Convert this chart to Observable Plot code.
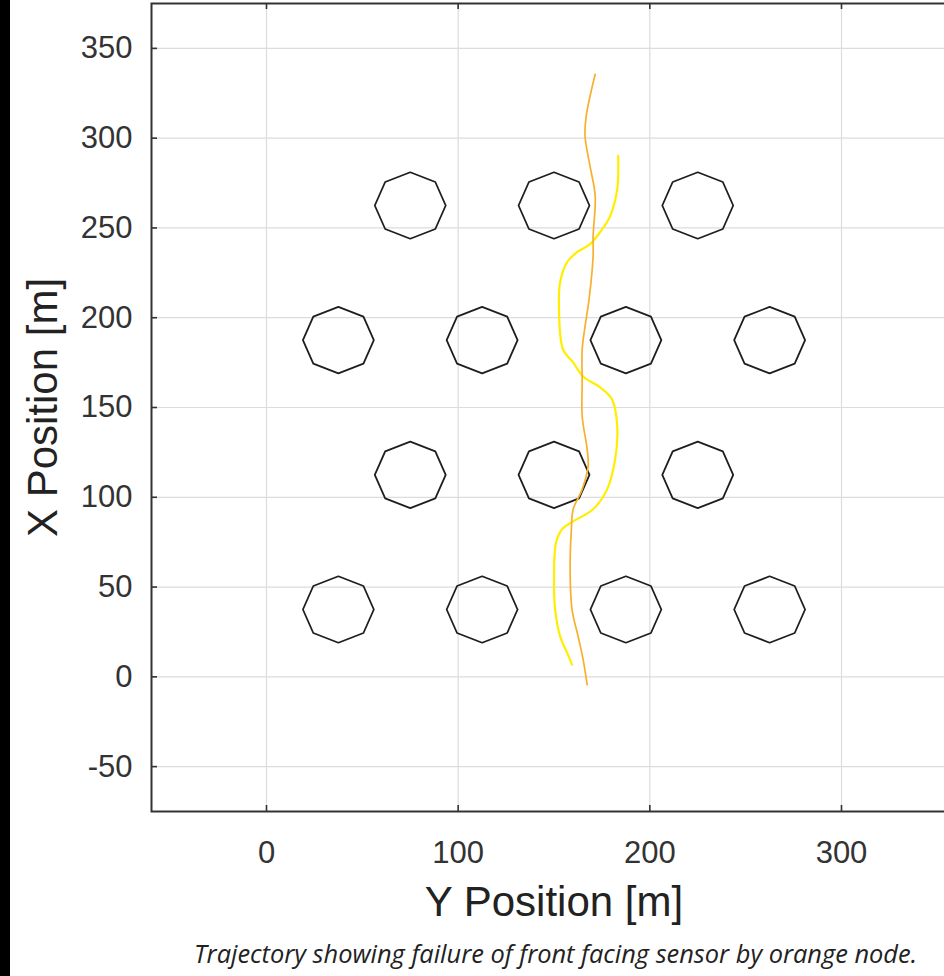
<!DOCTYPE html>
<html>
<head>
<meta charset="utf-8">
<script src="https://cdn.jsdelivr.net/npm/d3@7"></script>
<script src="https://cdn.jsdelivr.net/npm/@observablehq/plot@0.6"></script>
<style>
  html, body { margin: 0; padding: 0; background: #fff; width: 944px; height: 976px; overflow: hidden; }
  #strip { position: absolute; left: 0; top: 0; width: 10px; height: 976px; background: #000; z-index: 5; }
  #chart { position: absolute; left: 0; top: 0; z-index: 1; }
  #chart svg { overflow: hidden; }
  #caption { position: absolute; left: 167px; width: 777px; top: 930px; height: 46px; line-height: 46px; z-index: 2;
    text-align: center; font-family: "Open Sans", sans-serif; font-style: italic; font-size: 25.4px; color: #222; white-space: nowrap; }
</style>
</head>
<body>
<div id="strip"></div>
<div id="chart"></div>
<div id="caption">Trajectory showing failure of front facing sensor by orange node.</div>
<script>
// Axis ticks
const xTicks = [0, 100, 200, 300];
const yTicks = [-50, 0, 50, 100, 150, 200, 250, 300, 350];
const xDomain = [-60, 360];
const yDomain = [-75, 375];
const xLabel = "Y Position [m]";
const yLabel = "X Position [m]";

// Obstacles (octagons): centers and radius
const obsY = [75, 150, 225, 37.5, 112.5, 187.5, 262.5, 75, 150, 225, 37.5, 112.5, 187.5, 262.5];
const obsX = [262.5, 262.5, 262.5, 187.5, 187.5, 187.5, 187.5, 112.5, 112.5, 112.5, 37.5, 37.5, 37.5, 37.5];
const obsRadius = 18.5;
const obsSides = 8;

// Orange node trajectory (Y position, X position)
const orangeY = [171.5, 166.8, 166.2, 168.8, 171.5, 170.4, 170.4, 168.3, 166.2, 164.7, 164.7, 164.7, 167.3, 167.8, 164.7, 160.0, 159.0, 158.4, 159.4, 162.6, 165.2, 167.3];
const orangeX = [335.6, 312.3, 301.1, 284.4, 267.7, 245.4, 234.3, 210.3, 195.2, 182.4, 164.0, 145.1, 126.7, 117.2, 104.4, 93.3, 80.5, 61.5, 37.6, 22.5, 9.6, -4.3];

// Yellow node trajectory
const yellowY = [183.5, 183.0, 179.3, 174.1, 168.8, 162.0, 156.8, 153.2, 152.6, 154.7, 160.0, 165.2, 174.1, 180.3, 183.0, 181.9, 177.7, 170.4, 160.0, 154.2, 151.1, 150.0, 150.6, 153.2, 156.8, 159.4];
const yellowX = [290.1, 271.6, 256.6, 247.7, 241.0, 236.5, 230.9, 219.8, 204.7, 182.4, 175.1, 167.3, 161.2, 154.5, 139.5, 121.1, 104.4, 93.3, 86.6, 82.2, 74.9, 56.0, 37.6, 22.5, 13.5, 6.8];

// Build tables
const orange = orangeY.map((y, i) => ({y, x: orangeX[i]}));
const yellow = yellowY.map((y, i) => ({y, x: yellowX[i]}));
const octagons = [];
obsY.forEach((cy, k) => {
  for (let j = 0; j <= obsSides; j++) {
    const a = 2 * Math.PI * j / obsSides;
    octagons.push({id: k, y: cy + obsRadius * Math.cos(a), x: obsX[k] + obsRadius * Math.sin(a)});
  }
});

const FONT = "'Liberation Sans', Arial, Helvetica, sans-serif";
const axisColor = "#333";
const fmt = d => String(d);

const W = 944, H = 930, ML = 151, MR = -12, MT = 3, MB = 119;
const frameW = W - ML - MR, frameH = H - MT - MB;
const tickLen = 6;

const chart = Plot.plot({
  width: W,
  height: H,
  marginLeft: ML,
  marginRight: MR,
  marginTop: MT,
  marginBottom: MB,
  style: {fontFamily: FONT, background: "white", overflow: "hidden"},
  x: {domain: xDomain},
  y: {domain: yDomain},
  marks: [
    Plot.gridX(xTicks, {stroke: "#dcdcdc", strokeOpacity: 1, strokeWidth: 1.2}),
    Plot.gridY(yTicks, {stroke: "#dcdcdc", strokeOpacity: 1, strokeWidth: 1.2}),
    Plot.line(octagons, {x: "y", y: "x", z: "id", stroke: "#1e1e1e", strokeWidth: 1.8}),
    Plot.line(yellow, {x: "y", y: "x", stroke: "#FFEE00", strokeWidth: 2.2, curve: "catmull-rom"}),
    Plot.line(orange, {x: "y", y: "x", stroke: "#F8B02C", strokeWidth: 1.7, curve: "catmull-rom"}),
    Plot.frame({stroke: axisColor, strokeWidth: 2}),
    // inward tick marks
    Plot.tickX(xTicks, {x: d => d, insetTop: frameH - tickLen, stroke: axisColor, strokeWidth: 1.6}),
    Plot.tickX(xTicks, {x: d => d, insetBottom: frameH - tickLen, stroke: axisColor, strokeWidth: 1.6}),
    Plot.tickY(yTicks, {y: d => d, insetRight: frameW - tickLen, stroke: axisColor, strokeWidth: 1.6}),
    Plot.axisX(xTicks, {anchor: "bottom", tickSize: 0, tickPadding: 29, fontSize: 31, fill: axisColor, label: null, tickFormat: fmt}),
    Plot.axisY(yTicks, {anchor: "left", tickSize: 0, tickPadding: 19, fontSize: 31, fill: axisColor, label: null, tickFormat: fmt}),
    Plot.text([xLabel], {text: d => d, frameAnchor: "bottom", dy: 91, fontSize: 42, fill: "#222", textAnchor: "middle", lineAnchor: "middle"}),
    Plot.text([yLabel], {text: d => d, frameAnchor: "left", dx: -108, rotate: -90, fontSize: 42, fill: "#222", textAnchor: "middle", lineAnchor: "middle"})
  ]
});
document.getElementById("chart").appendChild(chart);
</script>
</body>
</html>
